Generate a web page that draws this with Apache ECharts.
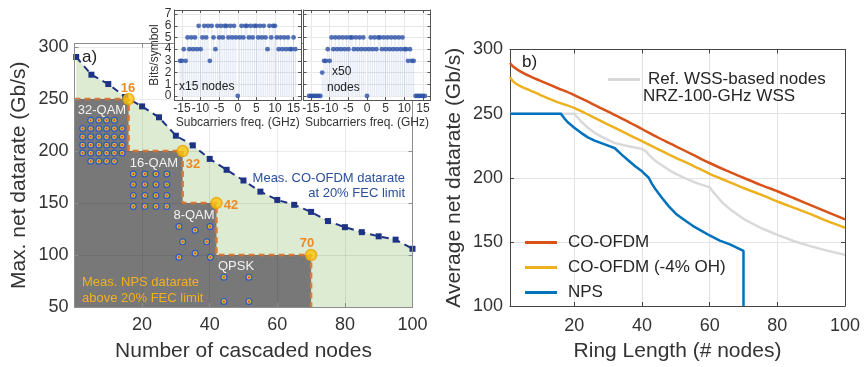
<!DOCTYPE html>
<html>
<head>
<meta charset="utf-8">
<title>CO-OFDM vs NPS</title>
<script src="https://cdn.jsdelivr.net/npm/echarts@6.0.0/dist/echarts.min.js"></script>
<style>
html, body { margin: 0; padding: 0; background: #fff; }
#chart { width: 865px; height: 367px; }
</style>
</head>
<body>
<div id="chart"></div>
<script>
var FONT = '"Liberation Sans", Arial, Helvetica, sans-serif';

// ---- a) 级联节点数 vs 最大净速率 ----
var cascNodes = [0.5, 5, 10, 15, 20, 25, 30, 35, 40, 45, 50, 55, 60, 65, 70, 75, 80, 85, 90, 95, 100];
var coRate = [290.5, 273.5, 264.5, 252, 243, 232.5, 214.8, 205.5, 192.5, 182, 171.7, 161, 153, 148.3, 141.5, 132.7, 126.8, 122, 118, 114.8, 106];
// NPS 阶梯
var stepNodes = [0, 16, 16, 32, 32, 42, 42, 70, 70];
var stepRate = [250, 250, 200, 200, 150, 150, 100, 100, 50];
var switchNodes = [16, 32, 42, 70];
var switchRate = [250, 200, 150, 100];
// 星座点 (画在图中的位置)
var qam32Cols = [2.4, 4.8, 7.2, 9.5, 11.8, 14.1];
var qam32Rows = [229.6, 221.7, 213.7, 205.8, 198.1, 190.2];
var qam16Cols = [17.4, 20.8, 24.1, 27.3];
var qam16Rows = [178, 167.8, 157.3, 146.8];
var qam8X = [30.9, 35.7, 40.1, 32, 39.1, 30.9, 35.7, 40.2];
var qam8Y = [127.4, 123.8, 127.4, 112.7, 112.7, 97.8, 101.6, 97.8];
var qpskX = [44.2, 51.6, 44.2, 51.6];
var qpskY = [78.7, 78.7, 55.4, 55.4];

// ---- 插图: 子载波比特分配 ----
var subFreq = [-15.5, -15, -14.5, -14, -13.5, -13, -12.5, -12, -11.5, -11, -10.5, -10, -9.5, -9, -8.5, -8, -7.5, -7, -6.5, -6,
  -5.5, -5, -4.5, -4, -3.5, -3, -2.5, -2, -1.5, -1, -0.5, 0, 0.5, 1, 1.5, 2, 2.5, 3, 3.5, 4, 4.5, 5, 5.5, 6, 6.5, 7, 7.5, 8,
  8.5, 9, 9.5, 10, 10.5, 11, 11.5, 12, 12.5, 13, 13.5, 14, 14.5, 15, 15.5];
var bits15 = [3, 3, 4, 3, 5, 4, 5, 4, 5, 4, 6, 4, 5, 6, 5, 6, 3, 6, 5, 4, 6, 5, 6, 5, 6, 6, 5, 6, 5, 6, 5, 0,
  5, 6, 5, 6, 6, 5, 6, 5, 6, 6, 5, 6, 5, 6, 5, 4, 6, 5, 6, 6, 5, 4, 5, 4, 5, 4, 5, 4, 4, 5, 4];
var bits50 = [0, 0, 0, 0, 0, 0, 0, 2, 3, 3, 4, 3, 5, 4, 5, 4, 5, 4, 5, 4, 5, 4, 5, 5, 4, 5, 4, 5, 4, 5, 4, 0,
  4, 5, 4, 5, 4, 5, 5, 4, 5, 4, 5, 4, 5, 4, 5, 4, 5, 4, 5, 4, 4, 3, 4, 3, 3, 0, 0, 0, 0, 0, 0];

// ---- b) 环长 vs 平均净速率 ----
var ringX = [1, 2, 4, 7, 10, 15, 20, 25, 30, 35, 40, 45, 50, 55, 60, 65, 70, 75, 80, 85, 90, 95, 100];
var coOfdm = [289.5, 286.5, 283, 279, 275.5, 270, 264.5, 258, 251.5, 245, 238, 231, 224.5, 218, 211.5, 205.5, 200, 194.5, 189.5, 184, 178.5, 173, 167.5];
var coOfdmOH = [278.5, 275, 271.5, 268, 264.5, 259, 254.5, 248, 241.5, 235, 228.5, 222, 215.5, 209.5, 203, 197.5, 192, 187, 181.5, 176.5, 171.5, 166, 161];
var npsX = [1, 16, 17, 18, 20, 22, 24, 26, 28, 30, 32, 34, 36, 38, 40, 42, 43, 44, 46, 48, 50, 52, 55, 58, 60, 63, 66, 70, 70];
var npsRate = [250, 250, 246.5, 243.5, 239, 235, 231.5, 229, 227, 225, 223, 218, 213.5, 209, 205, 200, 195, 191, 184, 177.5, 172, 168, 162.5, 158, 155, 151, 148, 143, 100];
var wssX = [1, 20, 21, 22, 24, 26, 28, 30, 32, 36, 40, 41, 42, 44, 46, 48, 50, 52, 56, 60, 61, 62, 64, 66, 70, 75, 80, 85, 90, 95, 100];
var wssRate = [250, 250, 247, 244, 239, 235, 232, 229.5, 227, 224.5, 222.5, 221, 218, 213, 209.5, 206, 203, 200.5, 196, 192.5, 189, 186, 180, 175.5, 168, 161, 155.5, 150.5, 146.5, 143, 140];

function pairs(xs, ys) {
  return xs.map(function(x, i) { return [x, ys[i]]; });
}
// 方形星座，去掉四角(32-QAM)
function gridPts(cols, rows, cutCorners) {
  var out = [];
  rows.forEach(function(y, r) {
    cols.forEach(function(x, c) {
      var corner = (r === 0 || r === rows.length - 1) && (c === 0 || c === cols.length - 1);
      if (!(cutCorners && corner)) out.push([x, y]);
    });
  });
  return out;
}
var constPts = gridPts(qam32Cols, qam32Rows, true)
  .concat(gridPts(qam16Cols, qam16Rows, false))
  .concat(pairs(qam8X, qam8Y))
  .concat(pairs(qpskX, qpskY));

function axis(grid, pos, min, max, color, extra) {
  var a = {
    type: 'value', gridIndex: grid, position: pos, min: min, max: max,
    axisLine: { show: true, onZero: false, lineStyle: { color: color, width: 1 } },
    axisTick: { show: true, inside: true, length: 4, lineStyle: { color: color } },
    axisLabel: { show: false },
    splitLine: { show: false }
  };
  for (var k in extra) a[k] = extra[k];
  return a;
}
function lbl(size, fmt, margin) {
  return { show: true, fontSize: size, color: '#333', fontFamily: FONT, margin: margin, formatter: fmt };
}
function nameStyle(size) {
  return { fontSize: size, color: '#333', fontFamily: FONT };
}

var fmt20 = function(v) { return v > 0 && v % 20 === 0 ? v : ''; };
var fmt50 = function(v) { return v % 50 === 0 ? v : ''; };
var fmtF = function(v) { return v % 5 === 0 && Math.abs(v) < 17 ? v : ''; };
var fmtB = function(v) { return Number.isInteger(v) ? v : ''; };

var mainC = '#8c8c8c', insetC = '#555', rightC = '#444';
var insetTick = { inside: true, length: 3, lineStyle: { color: insetC } };

var xAxis = [
  axis(0, 'bottom', 0, 100, mainC, { z: 3, axisLabel: lbl(18, fmt20, 9),
    splitLine: { show: true, lineStyle: { color: 'rgba(0,0,0,0.08)' } },
    name: 'Number of cascaded nodes', nameLocation: 'middle', nameGap: 34, nameTextStyle: nameStyle(21) }),
  axis(0, 'top', 0, 100, mainC, { z: 3 }),
  axis(1, 'bottom', -17, 17, insetC, { z: 11, splitNumber: 7, axisTick: insetTick,
    axisLabel: lbl(12, fmtF, 3), splitLine: { show: true, lineStyle: { color: '#e8e8e8' } },
    name: 'Subcarriers freq. (GHz)', nameLocation: 'middle', nameGap: 17, nameTextStyle: nameStyle(12) }),
  axis(1, 'top', -17, 17, insetC, { z: 11, splitNumber: 7, axisTick: insetTick }),
  axis(2, 'bottom', -17, 17, insetC, { z: 11, splitNumber: 7, axisTick: insetTick,
    axisLabel: lbl(12, fmtF, 3), splitLine: { show: true, lineStyle: { color: '#e8e8e8' } },
    name: 'Subcarriers freq. (GHz)', nameLocation: 'middle', nameGap: 17, nameTextStyle: nameStyle(12) }),
  axis(2, 'top', -17, 17, insetC, { z: 11, splitNumber: 7, axisTick: insetTick }),
  axis(3, 'bottom', 1, 100, rightC, { axisLabel: lbl(18, fmt20, 11),
    splitLine: { show: true, lineStyle: { color: '#e3e3e3' } },
    name: 'Ring Length (# nodes)', nameLocation: 'middle', nameGap: 35, nameTextStyle: nameStyle(21) }),
  axis(3, 'top', 1, 100, rightC, {})
];

var yAxis = [
  axis(0, 'left', 50, 303.5, mainC, { z: 3, axisLabel: lbl(18, fmt50, 6),
    splitLine: { show: true, lineStyle: { color: 'rgba(0,0,0,0.08)' } },
    name: 'Max. net datarate (Gb/s)', nameLocation: 'middle', nameGap: 45, nameTextStyle: nameStyle(21) }),
  axis(0, 'right', 50, 303.5, mainC, { z: 3 }),
  axis(1, 'left', -0.35, 7.35, insetC, { z: 11, splitNumber: 8, axisTick: insetTick,
    axisLabel: lbl(12, fmtB, 3), splitLine: { show: true, lineStyle: { color: '#e8e8e8' } },
    name: 'Bits/symbol', nameLocation: 'middle', nameGap: 11, nameTextStyle: nameStyle(12) }),
  axis(1, 'right', -0.35, 7.35, insetC, { z: 11, splitNumber: 8, axisTick: insetTick }),
  axis(2, 'left', -0.35, 7.35, insetC, { z: 11, splitNumber: 8, axisTick: insetTick,
    splitLine: { show: true, lineStyle: { color: '#e8e8e8' } } }),
  axis(2, 'right', -0.35, 7.35, insetC, { z: 11, splitNumber: 8, axisTick: insetTick }),
  axis(3, 'left', 100, 300, rightC, { interval: 50, axisLabel: lbl(18, null, 7),
    splitLine: { show: true, lineStyle: { color: '#e3e3e3' } },
    name: 'Average net datarate (Gb/s)', nameLocation: 'middle', nameGap: 45, nameTextStyle: nameStyle(21) }),
  axis(3, 'right', 100, 300, rightC, { interval: 50 })
];

function insetSeries(ax, bits) {
  var pts = pairs(subFreq, bits);
  return [{
    type: 'bar', xAxisIndex: ax, yAxisIndex: ax, data: pts, barWidth: 1, z: 12,
    itemStyle: { color: 'rgba(110,140,205,0.22)' }, silent: true
  }, {
    type: 'scatter', xAxisIndex: ax, yAxisIndex: ax, data: pts, symbolSize: 4.8, z: 13,
    itemStyle: { color: '#2b50a5' }
  }];
}

var series = [
  // 绿色区域 + CO-OFDM 实测点
  { type: 'line', xAxisIndex: 0, yAxisIndex: 0, data: pairs(cascNodes, coRate), z: 1,
    symbol: 'rect', symbolSize: 6, showAllSymbol: true,
    itemStyle: { color: '#1f3385' },
    lineStyle: { color: '#1f3385', width: 2, type: [7, 5] },
    areaStyle: { color: '#dcebd1', opacity: 1, origin: 'start' } },
  // NPS 阶梯
  { type: 'line', xAxisIndex: 0, yAxisIndex: 0, data: pairs(stepNodes, stepRate), z: 2,
    symbol: 'none', lineStyle: { color: '#d9793a', width: 2.5, type: [6, 4] },
    areaStyle: { color: '#787878', opacity: 1, origin: 'start' } },
  // 星座
  { type: 'scatter', xAxisIndex: 0, yAxisIndex: 0, data: constPts, symbolSize: 7, z: 4, itemStyle: { color: '#1f4fd6' }, silent: true },
  { type: 'scatter', xAxisIndex: 0, yAxisIndex: 0, data: constPts, symbolSize: 4.6, z: 4, itemStyle: { color: '#f4d21c' }, silent: true },
  { type: 'scatter', xAxisIndex: 0, yAxisIndex: 0, data: constPts, symbolSize: 2, z: 4, itemStyle: { color: '#e3261b' }, silent: true },
  // 切换点
  { type: 'scatter', xAxisIndex: 0, yAxisIndex: 0, data: pairs(switchNodes, switchRate), symbolSize: 11, z: 5,
    itemStyle: { color: '#fcc50d', borderColor: '#eda000', borderWidth: 1.5 } }
].concat(insetSeries(2, bits15)).concat(insetSeries(4, bits50)).concat([
  { name: 'Ref. WSS-based nodes', type: 'line', xAxisIndex: 6, yAxisIndex: 6, data: pairs(wssX, wssRate),
    symbol: 'none', lineStyle: { color: '#d9d9d9', width: 2.5 }, itemStyle: { color: '#d9d9d9' } },
  { name: 'NPS', type: 'line', xAxisIndex: 6, yAxisIndex: 6, data: pairs(npsX, npsRate),
    symbol: 'none', lineStyle: { color: '#0072bd', width: 2.5 }, itemStyle: { color: '#0072bd' } },
  { name: 'CO-OFDM (-4% OH)', type: 'line', xAxisIndex: 6, yAxisIndex: 6, data: pairs(ringX, coOfdmOH), smooth: 0.3,
    symbol: 'none', lineStyle: { color: '#edb120', width: 2.5 }, itemStyle: { color: '#edb120' } },
  { name: 'CO-OFDM', type: 'line', xAxisIndex: 6, yAxisIndex: 6, data: pairs(ringX, coOfdm), smooth: 0.3,
    symbol: 'none', lineStyle: { color: '#d95319', width: 2.5 }, itemStyle: { color: '#d95319' } }
]);

function txt(x, y, s, color, size, align, weight) {
  return { type: 'text', x: x, y: y, z: 20, silent: true,
    style: { text: s, fill: color, font: (weight || 'normal') + ' ' + size + 'px ' + FONT, align: align || 'left', verticalAlign: 'middle' } };
}

var graphics = [
  txt(82, 57, 'a)', '#222', 17),
  txt(102, 110, '32-QAM', '#f2f2f2', 13, 'center'),
  txt(154, 163, '16-QAM', '#f2f2f2', 13, 'center'),
  txt(194, 215, '8-QAM', '#f2f2f2', 13, 'center'),
  txt(236, 266, 'QPSK', '#f2f2f2', 13, 'center'),
  txt(82, 282, 'Meas. NPS datarate', '#f2b01e', 13),
  txt(82, 298, 'above 20% FEC limit', '#f2b01e', 13),
  txt(405, 178, 'Meas. CO-OFDM datarate', '#2b4f9e', 13, 'right'),
  txt(405, 193, 'at 20% FEC limit', '#2b4f9e', 13, 'right'),
  txt(128, 88, '16', '#ee8a25', 13, 'center', 'bold'),
  txt(193, 164, '32', '#ee8a25', 13, 'center', 'bold'),
  txt(231, 205, '42', '#ee8a25', 13, 'center', 'bold'),
  txt(307, 243, '70', '#ee8a25', 13, 'center', 'bold'),
  txt(179, 87, 'x15 nodes', '#222', 12),
  txt(332, 72, 'x50', '#222', 12),
  txt(327, 88, 'nodes', '#222', 12),
  txt(522, 62, 'b)', '#222', 17),
  txt(643, 96, 'NRZ-100-GHz WSS', '#262626', 17)
];

var chart = echarts.init(document.getElementById('chart'));
chart.setOption({
  backgroundColor: '#fff',
  animation: false,
  grid: [
    { left: 74.5, top: 43.5, width: 338, height: 265.5 },
    { left: 174.5, top: 10, width: 126.5, height: 90, show: true, backgroundColor: '#fff', borderWidth: 0, z: 10 },
    { left: 303.5, top: 10, width: 127, height: 90, show: true, backgroundColor: '#fff', borderWidth: 0, z: 10 },
    { left: 510, top: 49.5, width: 335, height: 261.5 }
  ],
  xAxis: xAxis,
  yAxis: yAxis,
  legend: [{
    data: ['CO-OFDM', 'CO-OFDM (-4% OH)', 'NPS'], orient: 'vertical', left: 520, top: 229,
    icon: 'rect', itemWidth: 32, itemHeight: 3, itemGap: 8,
    textStyle: { fontSize: 17, color: '#262626', fontFamily: FONT, padding: [0, 0, 0, 6] }
  }, {
    data: ['Ref. WSS-based nodes'], orient: 'vertical', left: 603, top: 66,
    icon: 'rect', itemWidth: 32, itemHeight: 3,
    textStyle: { fontSize: 17, color: '#262626', fontFamily: FONT, padding: [0, 0, 0, 3] }
  }],
  series: series,
  graphic: graphics
});
</script>
</body>
</html>
